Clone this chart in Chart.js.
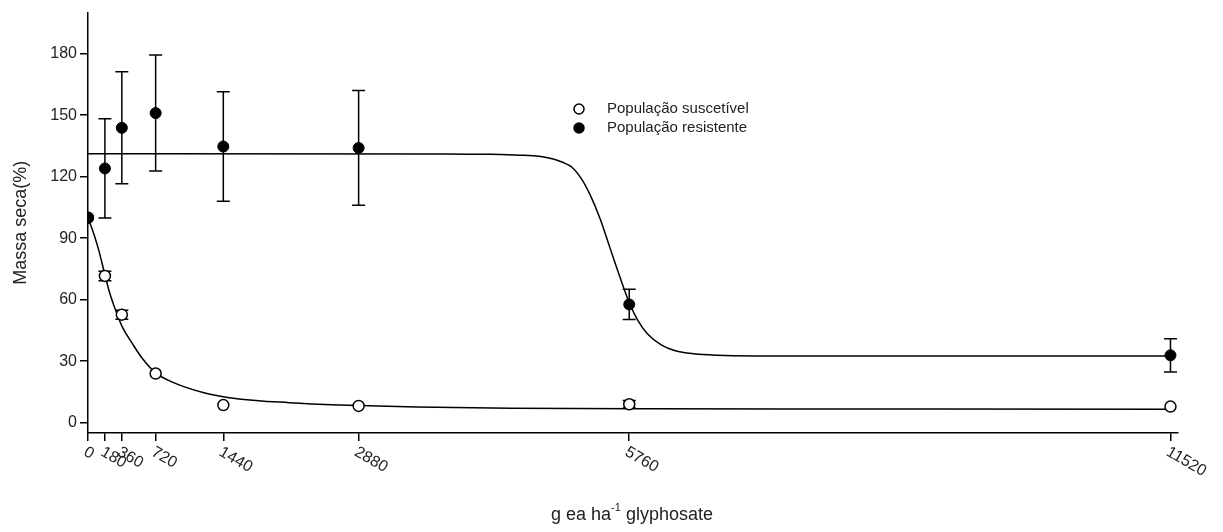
<!DOCTYPE html>
<html>
<head>
<meta charset="utf-8">
<script src="https://cdn.jsdelivr.net/npm/chart.js@4.4.1/dist/chart.umd.min.js"></script>
<style>
  body { margin: 0; background: #fff; }
</style>
</head>
<body>
<canvas id="doseChart" width="1223" height="532"></canvas>
<script>
// Dose-response: dry mass (%) vs glyphosate dose

var doses = [0, 180, 360, 720, 1440, 2880, 5760, 11520];
var doseLabels = ['0', '180', '360', '720', '1440', '2880', '5760', '11520'];
var yTicks = [0, 30, 60, 90, 120, 150, 180];

// susceptible population (open circles)
var suscMean = [100, 71.6, 52.7, 24, 8.6, 8.2, 9, 7.9];
var suscErr = [0, 2.3, 2.2, 0, 0, 0, 1.8, 0];

// resistant population (filled circles)
var resMean = [100, 124, 143.8, 151, 134.7, 134, 57.7, 32.9];
var resErr = [0, 24.2, 27.3, 28.3, 26.7, 28, 7.4, 8.1];

// fitted curves
var suscCurveX = [0, 64, 117, 170, 224, 295, 366, 472, 579, 720, 898, 1253, 1609, 2142, 2675, 3500, 4500, 6000, 8000, 11520];
var suscCurveY = [100, 91.8, 83.7, 74, 64.4, 54.7, 46.6, 38.6, 31.3, 24.3, 19.8, 14.4, 11.6, 9.8, 8.7, 7.7, 7.1, 6.8, 6.7, 6.6];

var resCurveX = [0, 3800, 4300, 4600, 4800, 4950, 5050, 5150, 5250, 5350, 5450, 5550, 5650, 5765, 5850, 5950, 6100, 6250, 6450, 6700, 7100, 8500, 11520];
var resCurveY = [131.2, 131.1, 130.9, 130.5, 129.9, 128.6, 127, 124.6, 119, 110.5, 99.5, 86, 72.5, 58, 50, 43.5, 38, 35.1, 33.6, 32.9, 32.6, 32.5, 32.5];

var FONT = 'Liberation Sans, Arial, sans-serif';

function pts(xs, ys) {
  return xs.map(function (x, i) { return { x: x, y: ys[i] }; });
}

var decor = {
  id: 'decor',
  beforeDatasetsDraw: function (chart) {
    var ctx = chart.ctx, xs = chart.scales.x, ys = chart.scales.y;
    ctx.save();
    ctx.strokeStyle = '#000';
    ctx.lineWidth = 1.5;
    [[resMean, resErr], [suscMean, suscErr]].forEach(function (s) {
      doses.forEach(function (d, i) {
        var e = s[1][i];
        if (!e) return;
        var px = xs.getPixelForValue(d);
        var top = ys.getPixelForValue(s[0][i] + e);
        var bot = ys.getPixelForValue(s[0][i] - e);
        ctx.beginPath();
        ctx.moveTo(px, top); ctx.lineTo(px, bot);
        ctx.moveTo(px - 6.5, top); ctx.lineTo(px + 6.5, top);
        ctx.moveTo(px - 6.5, bot); ctx.lineTo(px + 6.5, bot);
        ctx.stroke();
      });
    });
    ctx.restore();
  },
  afterDraw: function (chart) {
    var ctx = chart.ctx, xs = chart.scales.x;
    ctx.save();
    ctx.fillStyle = '#222';

    // rotated dose labels
    ctx.font = '16px ' + FONT;
    ctx.textAlign = 'left';
    ctx.textBaseline = 'top';
    doses.forEach(function (d, i) {
      var px = xs.getPixelForValue(d);
      ctx.save();
      ctx.translate(px + 1, 444);
      ctx.rotate(30 * Math.PI / 180);
      ctx.fillText(doseLabels[i], 0, 0);
      ctx.restore();
    });

    // x title with superscript
    var a = 'g ea ha', sup = '-1', b = ' glyphosate';
    ctx.textBaseline = 'alphabetic';
    ctx.font = '18px ' + FONT;
    var wa = ctx.measureText(a).width, wb = ctx.measureText(b).width;
    ctx.font = '11px ' + FONT;
    var ws = ctx.measureText(sup).width;
    var x0 = 632 - (wa + ws + wb) / 2;
    ctx.font = '18px ' + FONT;
    ctx.fillText(a, x0, 520);
    ctx.font = '11px ' + FONT;
    ctx.fillText(sup, x0 + wa, 511);
    ctx.font = '18px ' + FONT;
    ctx.fillText(b, x0 + wa + ws, 520);

    // legend
    ctx.font = '15px ' + FONT;
    ctx.textBaseline = 'middle';
    ctx.lineWidth = 1.5;
    ctx.strokeStyle = '#000';
    ctx.beginPath(); ctx.arc(579, 109, 5, 0, 2 * Math.PI);
    ctx.fillStyle = '#fff'; ctx.fill(); ctx.stroke();
    ctx.beginPath(); ctx.arc(579, 128, 5, 0, 2 * Math.PI);
    ctx.fillStyle = '#000'; ctx.fill(); ctx.stroke();
    ctx.fillStyle = '#222';
    ctx.fillText('População suscetível', 607, 109);
    ctx.fillText('População resistente', 607, 128);
    ctx.restore();
  }
};

var ctx = document.getElementById('doseChart').getContext('2d');
var doseChart = new Chart(ctx, {
  type: 'scatter',
  plugins: [decor],
  data: {
    datasets: [{
      label: 'População resistente',
      data: pts(doses, resMean),
      order: 0,
      pointRadius: 5.5,
      pointBackgroundColor: '#000',
      pointBorderColor: '#000',
      pointBorderWidth: 1
    }, {
      label: 'População suscetível',
      data: pts(doses, suscMean),
      order: 1,
      pointRadius: 5.5,
      pointBackgroundColor: '#fff',
      pointBorderColor: '#000',
      pointBorderWidth: 1.5
    }, {
      label: 'ajuste resistente',
      data: pts(resCurveX, resCurveY),
      order: 2,
      showLine: true,
      pointRadius: 0,
      borderColor: '#000',
      borderWidth: 1.5,
      cubicInterpolationMode: 'monotone'
    }, {
      label: 'ajuste suscetível',
      data: pts(suscCurveX, suscCurveY),
      order: 3,
      showLine: true,
      pointRadius: 0,
      borderColor: '#000',
      borderWidth: 1.5,
      cubicInterpolationMode: 'monotone'
    }]
  },
  options: {
    responsive: false,
    animation: false,
    layout: { padding: { top: 10, right: 45, left: 0, bottom: 0 } },
    plugins: { legend: { display: false }, tooltip: { enabled: false } },
    scales: {
      x: {
        type: 'linear',
        min: 0,
        max: 11600,
        afterBuildTicks: function (s) { s.ticks = doses.map(function (v) { return { value: v }; }); },
        afterFit: function (s) { s.height = 99; },
        ticks: { color: 'rgba(0,0,0,0)', autoSkip: false, maxRotation: 0, minRotation: 0 },
        grid: { drawOnChartArea: false, tickLength: 8, color: '#000', lineWidth: 1.5 },
        border: { color: '#000', width: 1.5 }
      },
      y: {
        min: -5,
        max: 200,
        afterBuildTicks: function (s) { s.ticks = yTicks.map(function (v) { return { value: v }; }); },
        afterFit: function (s) { s.width = 88; },
        ticks: { color: '#222', font: { family: FONT, size: 16 }, padding: 3 },
        grid: { drawOnChartArea: false, tickLength: 8, color: '#000', lineWidth: 1.5 },
        border: { color: '#000', width: 1.5 },
        title: {
          display: true,
          text: 'Massa seca(%)',
          color: '#222',
          font: { family: FONT, size: 18 },
          padding: { top: 10, bottom: 0 }
        }
      }
    }
  }
});
</script>
</body>
</html>
